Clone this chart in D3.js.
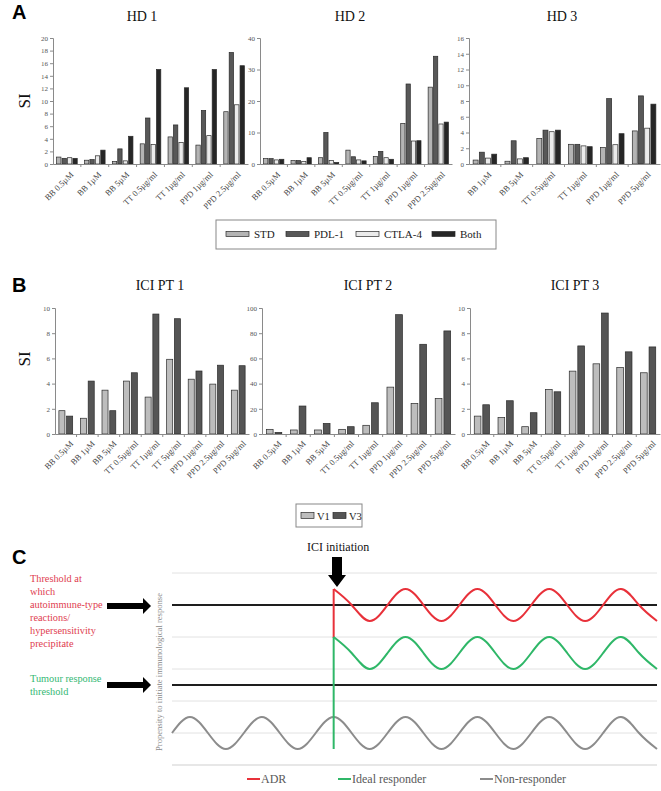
<!DOCTYPE html>
<html><head><meta charset="utf-8">
<script src="https://cdn.jsdelivr.net/npm/d3@7"></script>
<style>
body{margin:0;background:#fff;}
svg{display:block;font-family:"Liberation Serif","Times New Roman",serif;}
</style>
</head><body>
<svg id="chart" width="661" height="791"></svg>
<script>
// ---------- Panel A data ----------
const hdSeries = ["STD", "PDL-1", "CTLA-4", "Both"];
const hd1Cats = ["BB 0.5µM", "BB 1µM", "BB 5µM", "TT 0.5µg/ml", "TT 1µg/ml", "PPD 1µg/ml", "PPD 2.5µg/ml"];
const hd1STD   = [1.1, 0.6, 0.4, 3.2, 4.3, 3.0, 8.3];
const hd1PDL1  = [0.9, 0.7, 2.4, 7.3, 6.2, 8.5, 17.7];
const hd1CTLA4 = [1.0, 1.3, 0.5, 3.1, 3.4, 4.5, 9.4];
const hd1Both  = [0.9, 2.2, 4.4, 15.0, 12.1, 15.0, 15.6];
const hd1Ticks = [0, 2, 4, 6, 8, 10, 12, 14, 16, 18, 20];

const hd2Cats = ["BB 0.5µM", "BB 1µM", "BB 5µM", "TT 0.5µg/ml", "TT 1µg/ml", "PPD 1µg/ml", "PPD 2.5µg/ml"];
const hd2STD   = [1.7, 1.1, 2.0, 4.4, 2.4, 12.9, 24.4];
const hd2PDL1  = [1.7, 1.1, 10.0, 2.3, 4.0, 25.4, 34.2];
const hd2CTLA4 = [1.3, 0.8, 1.1, 1.3, 2.0, 7.3, 12.7];
const hd2Both  = [1.5, 2.0, 0.5, 1.0, 1.5, 7.4, 13.3];
const hd2Ticks = [0, 10, 20, 30, 40];

const hd3Cats = ["BB 1µM", "BB 5µM", "TT 0.5µg/ml", "TT 1µg/ml", "PPD 1µg/ml", "PPD 5µg/ml"];
const hd3STD   = [0.5, 0.35, 3.25, 2.5, 2.1, 4.2];
const hd3PDL1  = [1.5, 2.95, 4.3, 2.5, 8.3, 8.65];
const hd3CTLA4 = [0.75, 0.65, 4.1, 2.3, 2.45, 4.55];
const hd3Both  = [1.25, 0.8, 4.3, 2.2, 3.85, 7.6];
const hd3Ticks = [0, 2, 4, 6, 8, 10, 12, 14, 16];

// ---------- Panel B data ----------
const ptSeries = ["V1", "V3"];
const pt1Cats = ["BB 0.5µM", "BB 1µM", "BB 5µM", "TT 0.5µg/ml", "TT 1µg/ml", "TT 5µg/ml", "PPD 1µg/ml", "PPD 2.5µg/ml", "PPD 5µg/ml"];
const pt1V1 = [1.85, 1.25, 3.48, 4.2, 2.93, 5.93, 4.35, 3.96, 3.48];
const pt1V3 = [1.42, 4.2, 1.85, 4.86, 9.52, 9.15, 5.0, 5.46, 5.42];
const pt1Ticks = [0, 2, 4, 6, 8, 10];

const pt2Cats = ["BB 0.5µM", "BB 1µM", "BB 5µM", "TT 0.5µg/ml", "TT 1µg/ml", "PPD 1µg/ml", "PPD 2.5µg/ml", "PPD 5µg/ml"];
const pt2V1 = [3.7, 3.2, 3.2, 3.7, 6.9, 37.2, 24.3, 28.2];
const pt2V3 = [1.3, 22.2, 8.4, 5.8, 24.8, 94.7, 71.2, 81.8];
const pt2Ticks = [0, 20, 40, 60, 80, 100];

const pt3Cats = ["BB 0.5µM", "BB 1µM", "BB 5µM", "TT 0.5µg/ml", "TT 1µg/ml", "PPD 1µg/ml", "PPD 2.5µg/ml", "PPD 5µg/ml"];
const pt3V1 = [1.42, 1.32, 0.58, 3.54, 4.99, 5.57, 5.28, 4.86];
const pt3V3 = [2.32, 2.64, 1.69, 3.35, 6.99, 9.6, 6.52, 6.91];
const pt3Ticks = [0, 2, 4, 6, 8, 10];

// ---------- Panel C data ----------
const cSeries = ["ADR", "Ideal responder", "Non-responder"];
const cTime = [0,1,2,3,4,5,6,7,8,9,10,11,12,13,14,15,16,17,18,19,20,21,22,23,24,25,26,27];
const nonResponder = [1.0,1.5,1.0,0.5,1.0,1.5,1.0,0.5,1.0,1.5,1.0,0.5,1.0,1.5,1.0,0.5,1.0,1.5,1.0,0.5,1.0,1.5,1.0,0.5,1.0,1.5,1.0,0.5];
const adrTime = [9,9,10,11,12,13,14,15,16,17,18,19,20,21,22,23,24,25,26,27];
const adrValues = [3.97,5.5,5.0,4.5,5.0,5.5,5.0,4.5,5.0,5.5,5.0,4.5,5.0,5.5,5.0,4.5,5.0,5.5,5.0,4.5];
const idealTime = [9,9,10,11,12,13,14,15,16,17,18,19,20,21,22,23,24,25,26,27];
const idealValues = [0.5,4.0,3.5,3.0,3.5,4.0,3.5,3.0,3.5,4.0,3.5,3.0,3.5,4.0,3.5,3.0,3.5,4.0,3.5,3.0];
const thresholdValues = [5.0, 2.5];
const cGridValues = [0, 1, 2, 3, 4, 5, 6];

// ---------- styles ----------
const hdColors = ["#b4b4b4", "#585858", "#ebebeb", "#262626"];
const ptColors = ["#bdbdbd", "#555555"];
const cColors = ["#e8313a", "#2fb768", "#8c8c8c"];
const SERIF = "'Liberation Serif', 'Times New Roman', serif";

const svg = d3.select("#chart");

function barPanel(o) {
  const g = svg.append("g");
  const x = d3.scaleBand().domain(o.cats).range([o.x0, o.x1]).paddingInner(o.gp).paddingOuter(o.gp / 2);
  const xs = d3.scaleBand().domain(d3.range(o.series.length)).range([0, x.bandwidth()]).paddingInner(o.bp);
  const y = d3.scaleLinear().domain([0, o.max]).range([o.yb, o.yt]);

  o.series.forEach((vals, si) => {
    g.append("g").selectAll("rect").data(vals).join("rect")
      .attr("x", (d, i) => x(o.cats[i]) + xs(si))
      .attr("y", d => y(d))
      .attr("width", xs.bandwidth())
      .attr("height", d => y(0) - y(d))
      .attr("fill", o.colors[si])
      .attr("stroke", "#2a2a2a")
      .attr("stroke-width", 0.7);
  });

  const ya = g.append("g").attr("transform", `translate(${o.x0},0)`)
    .call(d3.axisLeft(y).tickValues(o.ticks).tickSize(3).tickPadding(2).tickFormat(d3.format("d")));
  ya.select(".domain").attr("stroke", "#8a8a8a");
  ya.selectAll(".tick line").attr("stroke", "#8a8a8a");
  ya.selectAll("text").attr("fill", "#555").style("font-size", "7px");

  const xa = g.append("g").attr("transform", `translate(0,${o.yb})`)
    .call(d3.axisBottom(x).tickSize(0).tickSizeOuter(0));
  xa.select(".domain").attr("stroke", "#8a8a8a");
  xa.selectAll("text")
    .attr("x", 0).attr("y", 0).attr("dy", "0.35em")
    .attr("transform", `translate(${o.ldx},${o.ldy}) rotate(-45)`)
    .style("text-anchor", "end")
    .attr("fill", "#444")
    .style("font-size", o.lfs + "px");
  const step = x.step();
  g.append("g").selectAll("line").data(o.cats.slice(1)).join("line")
    .attr("x1", d => x(d) - step * o.gp / 2).attr("x2", d => x(d) - step * o.gp / 2)
    .attr("y1", o.yb).attr("y2", o.yb + 3).attr("stroke", "#8a8a8a");

  g.append("text").attr("x", o.tx).attr("y", o.ty).attr("text-anchor", "middle")
    .style("font-size", "14px").attr("fill", "#111").text(o.title);
}

barPanel({cats: hd1Cats, series: [hd1STD, hd1PDL1, hd1CTLA4, hd1Both], colors: hdColors, max: 20, ticks: hd1Ticks,
  x0: 53, x1: 248, yt: 38, yb: 164, gp: 0.26, bp: 0.2, ldx: 5, ldy: 9, lfs: 8.5, title: "HD 1", tx: 142, ty: 21});
barPanel({cats: hd2Cats, series: [hd2STD, hd2PDL1, hd2CTLA4, hd2Both], colors: hdColors, max: 40, ticks: hd2Ticks,
  x0: 260, x1: 452, yt: 38, yb: 164, gp: 0.26, bp: 0.2, ldx: 5, ldy: 9, lfs: 8.5, title: "HD 2", tx: 350, ty: 21});
barPanel({cats: hd3Cats, series: [hd3STD, hd3PDL1, hd3CTLA4, hd3Both], colors: hdColors, max: 16, ticks: hd3Ticks,
  x0: 469, x1: 660, yt: 38, yb: 164, gp: 0.26, bp: 0.2, ldx: 5, ldy: 9, lfs: 8.5, title: "HD 3", tx: 562, ty: 21});

barPanel({cats: pt1Cats, series: [pt1V1, pt1V3], colors: ptColors, max: 10, ticks: pt1Ticks,
  x0: 55, x1: 249, yt: 308, yb: 434, gp: 0.36, bp: 0.22, ldx: 6, ldy: 8, lfs: 8.5, title: "ICI PT 1", tx: 160, ty: 290});
barPanel({cats: pt2Cats, series: [pt2V1, pt2V3], colors: ptColors, max: 100, ticks: pt2Ticks,
  x0: 262, x1: 455, yt: 308, yb: 434, gp: 0.36, bp: 0.22, ldx: 6, ldy: 8, lfs: 8.5, title: "ICI PT 2", tx: 368, ty: 290});
barPanel({cats: pt3Cats, series: [pt3V1, pt3V3], colors: ptColors, max: 10, ticks: pt3Ticks,
  x0: 470, x1: 660, yt: 308, yb: 434, gp: 0.36, bp: 0.22, ldx: 6, ldy: 8, lfs: 8.5, title: "ICI PT 3", tx: 575, ty: 290});

[[30, 101], [30, 359]].forEach(([x, y]) =>
  svg.append("text").attr("transform", `translate(${x},${y}) rotate(-90)`).attr("text-anchor", "middle")
    .style("font-size", "17px").attr("fill", "#111").text("SI"));

// Legend A
const legA = svg.append("g");
legA.append("rect").attr("x", 216).attr("y", 220).attr("width", 280).attr("height", 29)
  .attr("fill", "#fff").attr("stroke", "#888");
const legAX = [226, 286, 356, 432];
hdSeries.forEach((s, i) => {
  legA.append("rect").attr("x", legAX[i]).attr("y", 231.5).attr("width", 23).attr("height", 5)
    .attr("fill", hdColors[i]).attr("stroke", "#2a2a2a").attr("stroke-width", 0.7);
  legA.append("text").attr("x", legAX[i] + 28).attr("y", 238).style("font-size", "11px").attr("fill", "#222").text(s);
});

// Legend B
const legB = svg.append("g");
legB.append("rect").attr("x", 296).attr("y", 504).attr("width", 66).attr("height", 23)
  .attr("fill", "#fff").attr("stroke", "#888");
const legBX = [301, 333];
ptSeries.forEach((s, i) => {
  legB.append("rect").attr("x", legBX[i]).attr("y", 512.5).attr("width", 13).attr("height", 6)
    .attr("fill", ptColors[i]).attr("stroke", "#2a2a2a").attr("stroke-width", 0.7);
  legB.append("text").attr("x", legBX[i] + 16).attr("y", 520).style("font-size", "10.5px").attr("fill", "#222").text(s);
});

// ---------- Panel C ----------
const cx = d3.scaleLinear().domain([0, 27]).range([172, 657]);
const cy = d3.scaleLinear().domain([0, 6]).range([765, 573]);
const gc = svg.append("g");
gc.append("g").selectAll("line").data(cGridValues).join("line")
  .attr("x1", cx(0)).attr("x2", cx(27)).attr("y1", d => cy(d)).attr("y2", d => cy(d))
  .attr("stroke", d => d === 0 ? "#cfcfcf" : "#e2e2e2").attr("stroke-width", 1);
gc.append("g").selectAll("line").data(thresholdValues).join("line")
  .attr("x1", cx(0)).attr("x2", cx(27)).attr("y1", d => cy(d)).attr("y2", d => cy(d))
  .attr("stroke", "#1e1e1e").attr("stroke-width", 2.2);

const smooth = d3.line().x(d => cx(d[0])).y(d => cy(d[1])).curve(d3.curveNatural);
const straight = d3.line().x(d => cx(d[0])).y(d => cy(d[1]));
function drawSeries(ts, vs, color, jump) {
  const pts = ts.map((t, i) => [t, vs[i]]);
  if (jump) {
    gc.append("path").attr("d", straight(pts.slice(0, 2))).attr("fill", "none").attr("stroke", color).attr("stroke-width", 2);
    gc.append("path").attr("d", smooth(pts.slice(1))).attr("fill", "none").attr("stroke", color).attr("stroke-width", 2);
  } else {
    gc.append("path").attr("d", smooth(pts)).attr("fill", "none").attr("stroke", color).attr("stroke-width", 2);
  }
}
drawSeries(cTime, nonResponder, cColors[2], false);
drawSeries(adrTime, adrValues, cColors[0], true);
drawSeries(idealTime, idealValues, cColors[1], true);

gc.append("text").attr("transform", `translate(162,672) rotate(-90)`).attr("text-anchor", "middle")
  .style("font-size", "8.6px").attr("fill", "#8a8a8a").text("Propensity to initiate immunological response");

gc.append("text").attr("x", 307).attr("y", 551).style("font-size", "12px").attr("fill", "#111").text("ICI initiation");
gc.append("path").attr("d", "M332,557 L342,557 L342,575 L346,575 L337,587 L328,575 L332,575 Z").attr("fill", "#000");

const redLines = ["Threshold at", "which", "autoimmune-type", "reactions/", "hypersensitivity", "precipitate"];
redLines.forEach((t, i) => gc.append("text").attr("x", 30).attr("y", 582 + i * 12.9)
  .style("font-size", "10.3px").attr("fill", "#e04050").text(t));
const greenLines = ["Tumour response", "threshold"];
greenLines.forEach((t, i) => gc.append("text").attr("x", 30).attr("y", 682 + i * 13)
  .style("font-size", "10.3px").attr("fill", "#33b873").text(t));
[606, 685].forEach(yy => gc.append("path")
  .attr("d", `M107,${yy - 3} L143,${yy - 3} L143,${yy - 8} L151,${yy} L143,${yy + 8} L143,${yy + 3} L107,${yy + 3} Z`)
  .attr("fill", "#000"));

const legCX = [247, 338, 480];
cSeries.forEach((s, i) => {
  gc.append("line").attr("x1", legCX[i]).attr("x2", legCX[i] + 13).attr("y1", 779).attr("y2", 779)
    .attr("stroke", cColors[i]).attr("stroke-width", 2);
  gc.append("text").attr("x", legCX[i] + 14).attr("y", 783).style("font-size", "12px").attr("fill", "#595959").text(s);
});

// serif font for every chart text
svg.selectAll("text").style("font-family", SERIF);
svg.selectAll("g").attr("font-family", null);

// panel letters (sans bold)
[["A", 12, 19], ["B", 12, 292], ["C", 12, 564]].forEach(([t, x, y]) =>
  svg.append("text").attr("x", x).attr("y", y).text(t)
    .style("font-family", "'Liberation Sans', Arial, sans-serif").style("font-weight", "bold").style("font-size", "20px"));
</script>
</body></html>
